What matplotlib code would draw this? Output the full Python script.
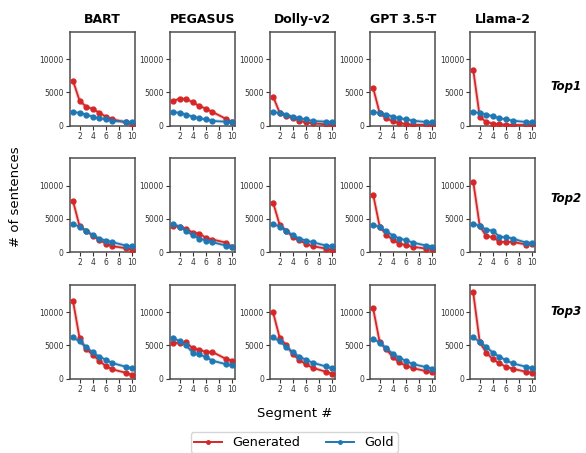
import numpy as np
import matplotlib.pyplot as plt
from matplotlib.lines import Line2D

models = ["BART", "PEGASUS", "Dolly-v2", "GPT 3.5-T", "Llama-2"]
rows = ["Top1", "Top2", "Top3"]
segments = [1, 2, 3, 4, 5, 6, 7, 9, 10]

# generated counts, one list per (row, model)
gen_top1 = {
    "BART":      [6750, 3750, 2850, 2500, 1950, 1350, 950, 500, 200],
    "PEGASUS":   [3700, 4050, 4000, 3500, 2950, 2550, 2050, 1050, 550],
    "Dolly-v2":  [4350, 1950, 1450, 1100, 750, 500, 350, 200, 150],
    "GPT 3.5-T": [5650, 1850, 1100, 650, 400, 250, 150, 100, 100],
    "Llama-2":   [8400, 1300, 550, 300, 200, 150, 100, 100, 50],
}
gold_top1 = {
    "BART":      [2000, 1950, 1650, 1350, 1100, 950, 700, 600, 550],
    "PEGASUS":   [2000, 1950, 1650, 1350, 1100, 950, 700, 600, 550],
    "Dolly-v2":  [2000, 1950, 1650, 1350, 1100, 950, 700, 600, 550],
    "GPT 3.5-T": [2000, 1950, 1650, 1350, 1100, 950, 750, 550, 500],
    "Llama-2":   [2000, 1950, 1650, 1400, 1100, 950, 750, 550, 500],
}
gen_top2 = {
    "BART":      [7700, 3900, 3200, 2500, 1850, 1300, 900, 600, 400],
    "PEGASUS":   [4000, 3800, 3500, 2950, 2800, 2150, 1900, 1450, 800],
    "Dolly-v2":  [7450, 4100, 3250, 2250, 1800, 1250, 900, 550, 350],
    "GPT 3.5-T": [8650, 3800, 2650, 1800, 1300, 1050, 800, 550, 550],
    "Llama-2":   [10600, 3900, 2400, 2250, 1550, 1550, 1550, 1150, 1250],
}
gold_top2 = {
    "BART":      [4200, 3850, 3200, 2550, 2050, 1750, 1500, 1000, 900],
    "PEGASUS":   [4200, 3850, 3200, 2550, 2050, 1750, 1500, 1000, 850],
    "Dolly-v2":  [4200, 3850, 3200, 2550, 2050, 1750, 1500, 1000, 900],
    "GPT 3.5-T": [4150, 3750, 3150, 2500, 2050, 1800, 1450, 1000, 850],
    "Llama-2":   [4300, 3900, 3400, 3200, 2300, 2250, 2050, 1450, 1400],
}
gen_top3 = {
    "BART":      [11700, 6100, 4450, 3600, 2700, 1900, 1400, 900, 550],
    "PEGASUS":   [5350, 5400, 5450, 4550, 4350, 4000, 4000, 3000, 2700],
    "Dolly-v2":  [9950, 6150, 5050, 3700, 2800, 2150, 1650, 1050, 750],
    "GPT 3.5-T": [10550, 5450, 4450, 3200, 2450, 1950, 1600, 1150, 1050],
    "Llama-2":   [12950, 5450, 3900, 2900, 2300, 1800, 1500, 1050, 900],
}
gold_top3 = {
    "BART":      [6200, 5600, 4750, 3950, 3300, 2850, 2350, 1800, 1550],
    "PEGASUS":   [6150, 5600, 5000, 3900, 3650, 3250, 2700, 2200, 2000],
    "Dolly-v2":  [6200, 5600, 4800, 3950, 3300, 2850, 2400, 1850, 1550],
    "GPT 3.5-T": [6000, 5400, 4550, 3750, 3150, 2650, 2200, 1750, 1500],
    "Llama-2":   [6200, 5550, 4750, 3900, 3300, 2750, 2300, 1800, 1550],
}
generated = [gen_top1, gen_top2, gen_top3]
gold = [gold_top1, gold_top2, gold_top3]

RED = "#d62728"
BLUE = "#1f77b4"
SPINE = "0.3"

fig, axes = plt.subplots(3, 5, figsize=(5.86, 4.53), dpi=100, sharey=True)
fig.subplots_adjust(left=0.1195, right=0.9135, top=0.930, bottom=0.164,
                    wspace=0.538, hspace=0.347)

for r in range(3):
    for c, m in enumerate(models):
        ax = axes[r, c]
        for vals, col in [(generated[r][m], RED), (gold[r][m], BLUE)]:
            ax.plot(segments, vals, color=col, lw=2.8, alpha=0.2, zorder=2)
            ax.plot(segments, vals, color=col, lw=1.3, marker="o", ms=3.5,
                    zorder=3)
        ax.set_ylim(0, 14100)
        ax.set_yticks([0, 5000, 10000])
        ax.set_xticks([2, 4, 6, 8, 10])
        ax.tick_params(labelsize=5.5, length=3, width=0.8, pad=1.5,
                       colors="0.2", labelleft=True)
        for s in ax.spines.values():
            s.set_color(SPINE)
            s.set_linewidth(1.1)
        if r == 0:
            ax.set_title(m, fontsize=9, fontweight="bold", pad=6)
    fig.text(0.966, [0.81, 0.561, 0.312][r], rows[r], fontsize=8.5,
             fontweight="bold", fontstyle="italic", ha="center", va="center")

fig.text(0.026, 0.565, "# of sentences", rotation=90, fontsize=9.5,
         ha="center", va="center")
fig.text(0.503, 0.088, "Segment #", fontsize=9.5, ha="center", va="center")

handles = [Line2D([], [], color=RED, lw=1.4, marker="o", ms=2.5),
           Line2D([], [], color=BLUE, lw=1.4, marker="o", ms=2.5)]
fig.legend(handles, ["Generated", "Gold"], loc="upper center",
           bbox_to_anchor=(0.502, 0.06), ncol=2, fontsize=9.2,
           frameon=True, columnspacing=2.0, handlelength=2.2,
           borderpad=0.3)

fig.savefig("out.png", dpi=100)
